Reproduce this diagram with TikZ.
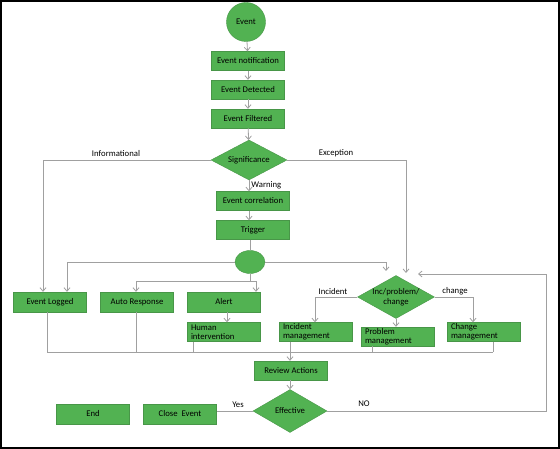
\documentclass[tikz,border=0pt]{standalone}
\usepackage{fontspec}
\setmainfont{Carlito}
\usetikzlibrary{shapes.geometric,arrows.meta}
\definecolor{gfill}{RGB}{82,178,82}
\definecolor{gdraw}{RGB}{72,150,72}
\definecolor{lgrey}{RGB}{160,160,160}
\tikzset{
  box/.style={rectangle,fill=gfill,draw=gdraw,line width=0.4pt,minimum width=73pt,minimum height=19pt,inner sep=1pt,font=\fontsize{8.7}{9.5}\selectfont},
  tbox/.style={box,align=left,text width=66pt,font=\fontsize{8.7}{9}\selectfont},
  dia/.style={diamond,fill=gfill,draw=gdraw,line width=0.4pt,inner sep=0pt},
  dtext/.style={font=\fontsize{8.7}{9.5}\selectfont,align=center,inner sep=0pt},
  circ/.style={ellipse,fill=gfill,draw=gdraw,line width=0.4pt,inner sep=0pt,font=\fontsize{8.7}{9.5}\selectfont},
  ln/.style={draw=lgrey,line width=0.8pt},
  ar/.style={ln,-{Straight Barb[length=3.5pt,width=6pt,line width=0.8pt]}},
  lab/.style={font=\fontsize{8.7}{9.5}\selectfont,inner sep=1pt}
}
\begin{document}
\begin{tikzpicture}[x=1pt,y=-1pt]
\useasboundingbox (0,0) rectangle (560,449);
\draw[black,line width=1.5pt] (1,1) rectangle (559,448);
% nodes
\node[circ,minimum width=39pt,minimum height=39pt] (ev) at (246,22) {Event};
\node[box] (en) at (248,61) {Event notification};
\node[box] (ed) at (248,89.5) {Event Detected};
\node[box] (ef) at (248,118.5) {Event Filtered};
\node[dia,minimum width=76pt,minimum height=40pt] (sig) at (249,160) {};
\node[dtext] (sigt) at (sig.center) {Significance};
\node[box] (ec) at (253,201) {Event correlation};
\node[box] (tr) at (253,230) {Trigger};
\node[circ,minimum width=30pt,minimum height=23pt] (ci) at (250,262) {};
\node[box,minimum height=20pt] (el) at (50,302) {Event Logged};
\node[box,minimum height=20pt] (ars) at (137,302) {Auto Response};
\node[box,minimum height=20pt] (al) at (224,302) {Alert};
\node[tbox] (hi) at (224,332) {Human\\intervention};
\node[dia,minimum width=77pt,minimum height=43pt] (ipc) at (396,297) {};
\node[dtext] (ipct) at (ipc.center) {Inc/problem/\\change};
\node[tbox] (im) at (316,332) {Incident\\management};
\node[tbox] (pm) at (398,336.5) {Problem\\management};
\node[tbox] (cm) at (484,332) {Change\\management};
\node[box] (ra) at (291,370.5) {Review Actions};
\node[dia,minimum width=74pt,minimum height=43pt] (eff) at (290,411) {};
\node[dtext] (efft) at (eff.center) {Effective};
\node[box,minimum height=20pt] (ce) at (180,414) {Close\ \ Event};
\node[box,minimum height=20pt] (end) at (93,414) {End};
% coordinates
\coordinate (busL) at (47,352);
\coordinate (busR) at (493,352);
\coordinate (split) at (250,281);
\coordinate (fb1) at (546,411);
\coordinate (fb2) at (546,274);
\coordinate (fbEnd) at (418,274);
% vertical chain
\draw[ar] (ev) -- (en);
\draw[ar] (en) -- (ed);
\draw[ar] (ed) -- (ef);
\draw[ar] (ef) -- (sig);
\draw[ar] (sig.south) -- (sig.south |- ec.north) node[lab,pos=0.5,anchor=west,xshift=1pt] {Warning};
\draw[ar] (ec.south -| sig.south) -- (tr.north -| sig.south);
\draw[ln] (tr.south -| ci.north) -- (ci.north);
% significance branches
\draw[ar] (sig.west) -- (43,160) -- (43,160 |- el.north);
\node[lab,anchor=south] (linf) at (116,158) {Informational};
\draw[ar] (sig.east) -- (406,160) -- (406,273);
\node[lab,anchor=south] (lexc) at (336,158) {Exception};
% circle branches
\draw[ar] (ci.west) -- (67,262) -- (67,262 |- el.north);
\draw[ar] (ci.east) -- (386,262) -- (386,271);
\draw[ln] (ci.south) -- (split);
\draw[ar] (136,281) -- (136,281 |- ars.north);
\draw[ln] (136,281) -- (256,281);
\draw[ar] (256,281) -- (256,281 |- al.north);
\draw[ar] (al.south -| 227,0) -- (hi.north -| 227,0);
% inc/problem/change branches
\draw[ar] (ipc.west) -- (315,297) -- (315,297 |- im.north);
\node[lab,anchor=south] (linc) at (333,296) {Incident};
\draw[ar] (ipc.east) -- (473,297) -- (473,297 |- cm.north);
\node[lab,anchor=south] (lch) at (455,296) {change};
\draw[ar] (ipc.south) -- (ipc.south |- pm.north);
% collecting bus
\draw[ln] (busL) -- (busR);
\draw[ln] (el.south -| busL) -- (busL);
\draw[ln] (ars.south -| 136,0) -- (136,352);
\draw[ln] (hi.south -| 193,0) -- (193,352);
\draw[ln] (pm.south -| 372,0) -- (372,352);
\draw[ln] (cm.south -| busR) -- (busR);
\draw[ar] (im.south -| 290,0) -- (ra.north -| 290,0);
\draw[ar] (ra.south -| eff.north) -- (eff.north);
% effective
\draw[ln] (eff.west) -- (ce.east |- eff.west);
\node[lab,anchor=south] (lyes) at (238,409) {Yes};
\draw[ar] (eff.east) -- (fb1) -- (fb2) -- (fbEnd);
\node[lab,anchor=south] (lno) at (364,408) {NO};
\end{tikzpicture}
\end{document}
